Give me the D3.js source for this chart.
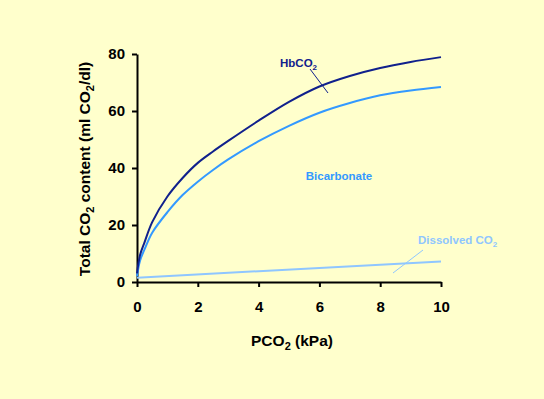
<!DOCTYPE html>
<html>
<head>
<meta charset="utf-8">
<script src="https://cdn.jsdelivr.net/npm/d3@7"></script>
<style>
  body { margin: 0; background: #ffffcc; }
  svg { display: block; }
  .tick text { font-family: "Liberation Sans Narrow", "Arial Narrow", "Liberation Sans", Arial, sans-serif; font-weight: bold; font-size: 15px; }
</style>
</head>
<body>
<svg class="chart"></svg>
<script>
// Data.
var pco2 = [0, 0.1, 0.25, 0.5, 1, 1.5, 2, 2.5, 3, 4, 5, 6, 7, 8, 9, 10];
var hbco2 = [3, 9.5, 14, 21, 30, 36.5, 41.8, 45.8, 49.5, 56.6, 63.2, 68.6, 72.3, 75.1, 77.2, 78.9];
var bicarbonate = [2, 7.5, 11.5, 17.3, 24.5, 30.5, 35.2, 39.3, 43, 49.4, 54.8, 59.4, 62.8, 65.5, 67.2, 68.4];
var dissolvedX = [0, 10];
var dissolved = [1.5, 7.2];
var xTicks = [0, 2, 4, 6, 8, 10];
var yTicks = [0, 20, 40, 60, 80];

var width = 544,
    height = 399;

var svg = d3.select(".chart")
    .attr("width", width)
    .attr("height", height);

svg.append("rect")
    .attr("width", width)
    .attr("height", height)
    .attr("fill", "#ffffcc");

// Scales
var x = d3.scaleLinear().domain([0, 10]).range([137, 441]);
var y = d3.scaleLinear().domain([0, 80]).range([282, 54]);

// Axes
svg.append("g")
    .attr("transform", "translate(0," + y(0) + ")")
    .call(d3.axisBottom(x).tickValues(xTicks).tickSize(5).tickPadding(14).tickSizeOuter(0))
    .call(function (g) {
        g.select(".domain").attr("stroke", "#000").attr("stroke-width", 2);
        g.selectAll(".tick line").attr("stroke", "#000").attr("stroke-width", 2);
    });

svg.append("g")
    .attr("transform", "translate(" + x(0) + ",0)")
    .call(d3.axisLeft(y).tickValues(yTicks).tickSize(5).tickPadding(7).tickSizeOuter(0))
    .call(function (g) {
        g.select(".domain").attr("stroke", "#000").attr("stroke-width", 2);
        g.selectAll(".tick line").attr("stroke", "#000").attr("stroke-width", 2);
    });

// Lines
var line = d3.line()
    .x(function (d) { return x(d[0]); })
    .y(function (d) { return y(d[1]); })
    .curve(d3.curveCatmullRom.alpha(0.5));

svg.append("path")
    .datum(d3.zip(dissolvedX, dissolved))
    .attr("fill", "none")
    .attr("stroke", "#8fc6ff")
    .attr("stroke-width", 2)
    .attr("d", line);

svg.append("path")
    .datum(d3.zip(pco2, bicarbonate))
    .attr("fill", "none")
    .attr("stroke", "#3399ff")
    .attr("stroke-width", 2)
    .attr("d", line);

svg.append("path")
    .datum(d3.zip(pco2, hbco2))
    .attr("fill", "none")
    .attr("stroke", "#10208c")
    .attr("stroke-width", 2)
    .attr("d", line);

// Labels
var labelFont = "'Liberation Sans', Arial, sans-serif";

var hb = svg.append("text")
    .attr("x", 280)
    .attr("y", 67)
    .attr("fill", "#10208c")
    .style("font-family", labelFont)
    .style("font-weight", "bold")
    .style("font-size", "11.5px");
hb.append("tspan").text("HbCO");
hb.append("tspan").attr("dy", 3).style("font-size", "8px").text("2");

svg.append("line")
    .attr("x1", 310).attr("y1", 69)
    .attr("x2", 328).attr("y2", 93)
    .attr("stroke", "#10208c")
    .attr("stroke-width", 1);

svg.append("text")
    .attr("x", 339)
    .attr("y", 180)
    .attr("text-anchor", "middle")
    .attr("fill", "#3399ff")
    .style("font-family", labelFont)
    .style("font-weight", "bold")
    .style("font-size", "11.5px")
    .text("Bicarbonate");

var dis = svg.append("text")
    .attr("x", 418)
    .attr("y", 244)
    .attr("fill", "#8fc6ff")
    .style("font-family", labelFont)
    .style("font-weight", "bold")
    .style("font-size", "11.5px");
dis.append("tspan").text("Dissolved CO");
dis.append("tspan").attr("dy", 3).style("font-size", "8px").text("2");

svg.append("line")
    .attr("x1", 423).attr("y1", 250)
    .attr("x2", 393).attr("y2", 273)
    .attr("stroke", "#8fc6ff")
    .attr("stroke-width", 1);

// Axis titles
var xt = svg.append("text")
    .attr("x", 292)
    .attr("y", 346)
    .attr("text-anchor", "middle")
    .attr("fill", "#000")
    .style("font-family", labelFont)
    .style("font-weight", "bold")
    .style("font-size", "15.5px");
xt.append("tspan").text("PCO");
xt.append("tspan").attr("dy", 4).style("font-size", "11px").text("2");
xt.append("tspan").attr("dy", -4).text(" (kPa)");

var yt = svg.append("text")
    .attr("transform", "translate(90,169) rotate(-90)")
    .attr("text-anchor", "middle")
    .attr("fill", "#000")
    .style("font-family", labelFont)
    .style("font-weight", "bold")
    .style("font-size", "15.5px");
yt.append("tspan").text("Total CO");
yt.append("tspan").attr("dy", 4).style("font-size", "11px").text("2");
yt.append("tspan").attr("dy", -4).text(" content (ml CO");
yt.append("tspan").attr("dy", 4).style("font-size", "11px").text("2");
yt.append("tspan").attr("dy", -4).text("/dl)");
</script>
</body>
</html>
